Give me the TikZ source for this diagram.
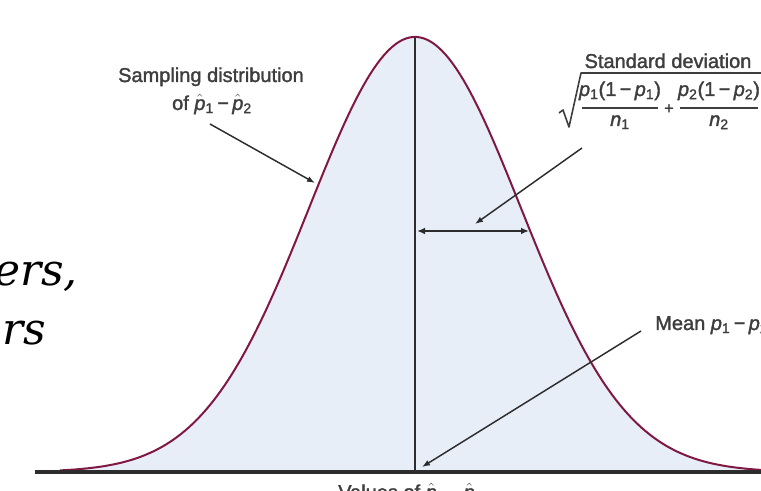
\documentclass[tikz,border=0pt]{standalone}
\usepackage{amsmath}
\usepackage{fontspec}
\setsansfont{Liberation Sans}[FakeBold=1.6]
\newfontfamily\bigfont{DejaVu Serif}
\usetikzlibrary{arrows.meta}
\definecolor{fillblue}{RGB}{232,238,247}
\definecolor{curvecol}{RGB}{128,24,68}
\definecolor{txt}{RGB}{62,62,62}
\definecolor{ink}{RGB}{45,45,45}
\newcommand\ph[1]{\ensuremath{\hat{\mbox{\itshape p}}}\textsubscript{#1}}
\newcommand\pp[1]{{\itshape p}\textsubscript{#1}}
\begin{document}
\begin{tikzpicture}[x=0.75pt,y=-0.75pt,
  lbl/.style={font=\sffamily\fontsize{15}{18}\selectfont, text=txt, inner sep=0pt},
  big/.style={font=\bigfont\itshape\fontsize{33}{40}\selectfont, inner sep=0pt, anchor=base east},
  ptr/.style={draw=ink, line width=1.1pt, -{Latex[length=6pt,width=4.5pt]}},
  formula/.style={draw=txt, line width=1.2pt, line join=round}]
\useasboundingbox (0,0) rectangle (761,491);
\clip (0,0) rectangle (761,491);
% fill under curve
\fill[fillblue] plot[domain=60:770,samples=200] (\x,{472-435*exp(-0.5*((\x-415)/106)*((\x-415)/106))}) -- (770,472) -- (60,472) -- cycle;
% mean line
\coordinate (base) at (415,472);
\coordinate (peak) at (415,38);
\draw[ink, line width=1.5pt] (base) -- (peak);
% curve
\draw[curvecol, line width=1.5pt] plot[domain=60:770,samples=200] (\x,{472-435*exp(-0.5*((\x-415)/106)*((\x-415)/106))});
% axis
\coordinate (axL) at (35,472);
\coordinate (axR) at (770,472);
\draw[ink, line width=2.3pt] (axL) -- (axR);
% sd double arrow
\coordinate (sdL) at (417,231);
\coordinate (sdR) at (529,231);
\draw[ink, line width=1.3pt, {Latex[length=6pt,width=5pt]}-{Latex[length=6pt,width=5pt]}] (sdL) -- (sdR);
% labels
\node[lbl, anchor=base] (samp1) at (211,82) {Sampling distribution};
\node[lbl, anchor=base] (samp2) at (212,110) {of \ph{1}\,−\,\ph{2}};
\node[lbl, anchor=base] (sdtitle) at (668,68) {Standard deviation};
\node[lbl, anchor=base] (num1) at (620,96) {\pp{1}(1\,−\,\pp{1})};
\node[lbl, anchor=base] (den1) at (620,126) {{\itshape n}\textsubscript{1}};
\node[lbl, font=\sffamily\fontsize{12}{14}\selectfont] (plus) at (669,109) {+};
\node[lbl, anchor=base] (num2) at (719,96) {\pp{2}(1\,−\,\pp{2})};
\node[lbl, anchor=base] (den2) at (719,126) {{\itshape n}\textsubscript{2}};
\draw[formula] (582,108) -- (658,108);
\draw[formula] (680,108) -- (758,108);
\draw[formula] (559,113) -- (563,110) -- (569,127) -- (581,73) -- (770,73);
\node[lbl, anchor=base west] (mean) at (655,330) {Mean \pp{1}\,−\,\pp{2}};
\node[lbl, anchor=base west] (vals) at (338,499) {Values of \ph{1}\,−\,\ph{2}};
% left partial text
\node[big] (ers) at (78,286) {ers,};
\node[big] (rs) at (46,345) {rs};
% pointer arrows
\coordinate (sampTail) at (210,124);
\coordinate (sampHead) at (315,183);
\draw[ptr] (sampTail) -- (sampHead);
\coordinate (sdTail) at (582,148);
\coordinate (sdHead) at (475,224);
\draw[ptr] (sdTail) -- (sdHead);
\coordinate (meanTail) at (641,331);
\coordinate (meanHead) at (422,467);
\draw[ptr] (meanTail) -- (meanHead);
\end{tikzpicture}
\end{document}
